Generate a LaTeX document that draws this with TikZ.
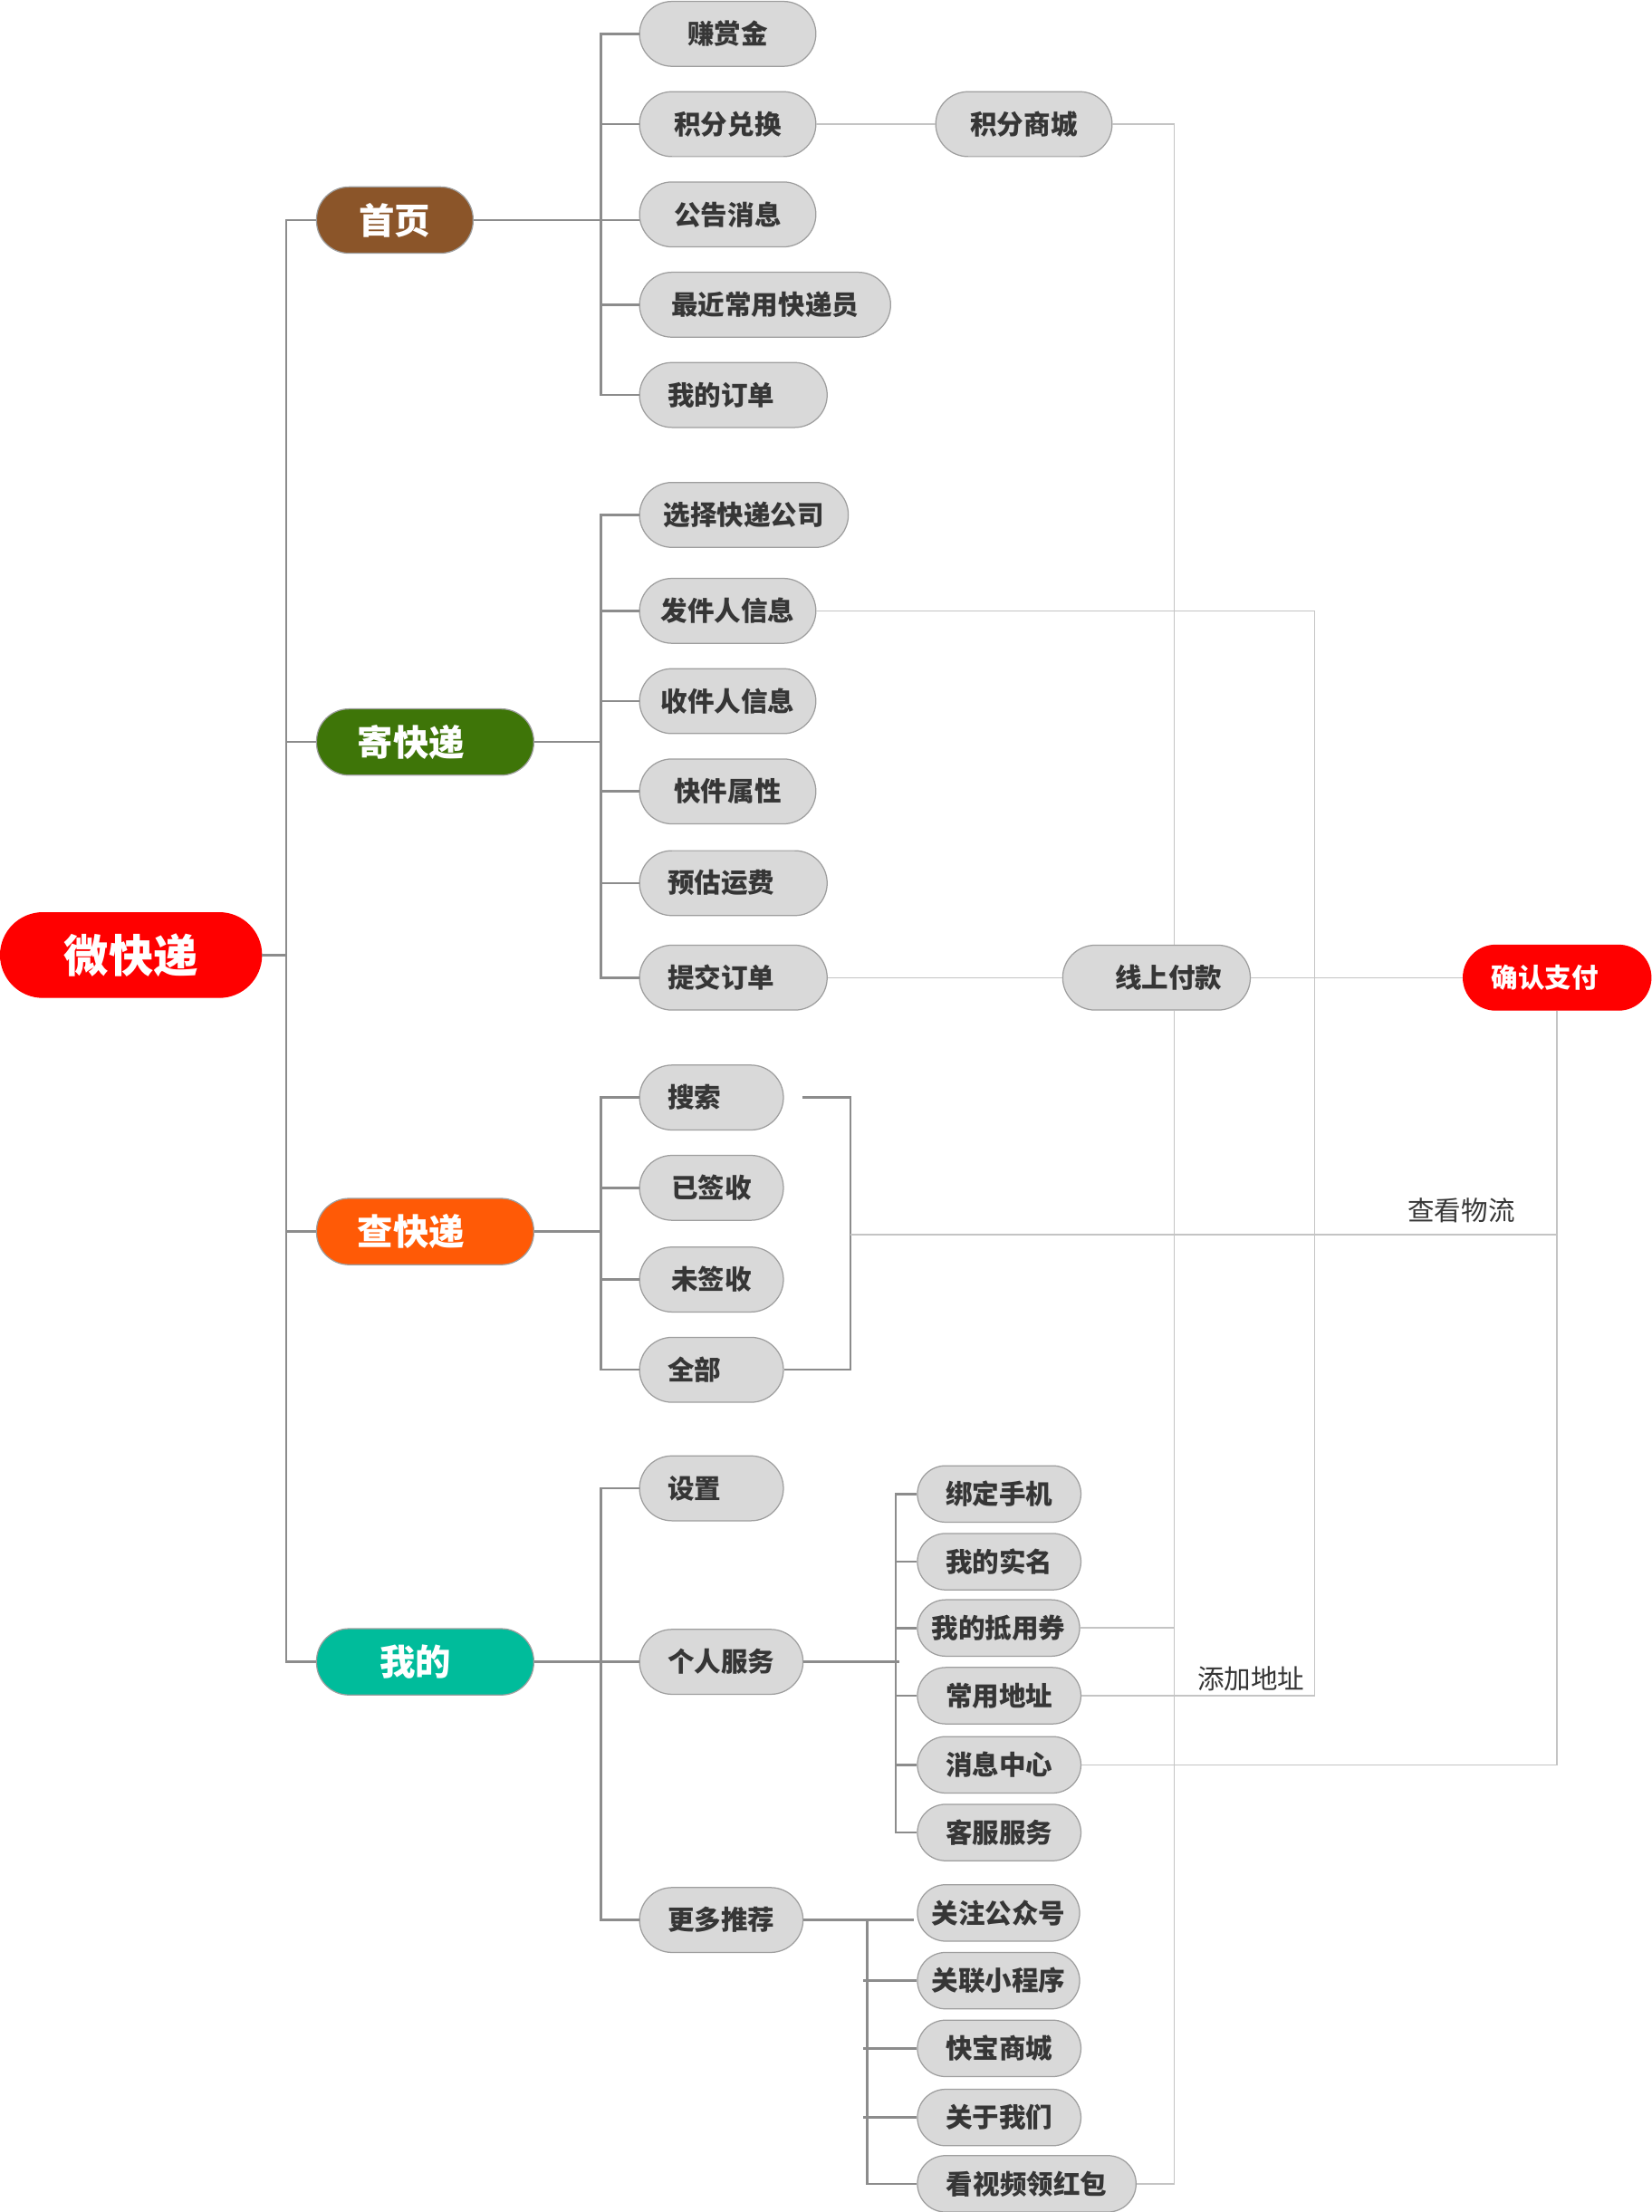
\documentclass[tikz,border=0pt]{standalone}
\usepackage{fontspec}
\setmainfont{Noto Sans CJK SC}

\definecolor{leafgray}{HTML}{D9D9D9}
\definecolor{edgegray}{HTML}{9E9E9E}
\definecolor{textgray}{HTML}{363636}
\definecolor{treegray}{HTML}{8C8C8C}
\definecolor{linkgray}{HTML}{C4C4C4}
\definecolor{shouye}{HTML}{8B5529}
\definecolor{jikuaidi}{HTML}{3E7508}
\definecolor{chakuaidi}{HTML}{FF5A06}
\definecolor{wode}{HTML}{00BC9B}

\tikzset{
  box/.style={rounded corners=11.5mm, minimum height=23mm, inner xsep=10mm, inner ysep=0pt, anchor=west, draw=edgegray, line width=0.4mm},
  leaf/.style={box, fill=leafgray, text=textgray, minimum width=#1, font=\bfseries\fontsize{27}{30}\selectfont},
  small/.style={minimum height=20mm, rounded corners=10mm},
  head/.style={box, fill=#1, text=white, minimum height=23.5mm, font=\bfseries\fontsize{36}{40}\selectfont},
  lefttext/.style={text width=#1, align=left},
  tree/.style={draw=treegray, line width=0.8mm},
  link/.style={draw=linkgray, line width=0.5mm},
  note/.style={text=textgray, font=\fontsize{27}{30}\selectfont}
}

\begin{document}
\begin{tikzpicture}[x=0.5mm,y=-0.5mm]
\useasboundingbox (0,0) rectangle (1171,1568);
% root and first level
\node[box, fill=red, draw=red, text=white, minimum width=92.5mm, minimum height=30mm, rounded corners=15mm, font=\bfseries\fontsize{45}{50}\selectfont] (root) at (0,677) {微快递};
\node[head=shouye, minimum width=55.5mm] (sy) at (224,156) {首页};
\node[head=jikuaidi, minimum width=77mm, inner xsep=14.5mm, lefttext=48mm] (jkd) at (224,526) {寄快递};
\node[head=chakuaidi, minimum width=77mm, inner xsep=14.5mm, lefttext=48mm] (ckd) at (224,873) {查快递};
\node[head=wode, minimum width=77mm, inner xsep=22.5mm, lefttext=32mm] (wd) at (224,1178) {我的};
% 首页
\node[leaf=62.5mm] (zsj) at (453,24) {赚赏金};
\node[leaf=62.5mm] (jfdh) at (453,88) {积分兑换};
\node[leaf=62.5mm] (ggxx) at (453,152) {公告消息};
\node[leaf=89mm] (zjky) at (453,216) {最近常用快递员};
\node[leaf=66.5mm, lefttext=46.5mm] (wddd) at (453,280) {我的订单};
\node[leaf=62.5mm] (jfsc) at (663,88) {积分商城};
% 寄快递
\node[leaf=74mm, inner xsep=8.5mm] (xzgs) at (453,365) {选择快递公司};
\node[leaf=62.5mm, inner xsep=7.5mm] (fjr) at (453,433) {发件人信息};
\node[leaf=62.5mm, inner xsep=7.5mm] (sjr) at (453,497) {收件人信息};
\node[leaf=62.5mm] (kjsx) at (453,561) {快件属性};
\node[leaf=66.5mm, lefttext=46.5mm] (ygyf) at (453,626) {预估运费};
\node[leaf=66.5mm, lefttext=46.5mm] (tjdd) at (453,693) {提交订单};
\node[leaf=66.5mm, text width=46.5mm, align=right] (xsfk) at (753,693) {线上付款};
\node[leaf=66.5mm, lefttext=46.5mm, fill=red, draw=red, text=white] (qrzf) at (1037,693) {确认支付};
% 查快递
\node[leaf=51mm, lefttext=31mm] (ss) at (453,778) {搜索};
\node[leaf=51mm] (yqs) at (453,842) {已签收};
\node[leaf=51mm] (wqs) at (453,907) {未签收};
\node[leaf=51mm, lefttext=31mm] (qb) at (453,971) {全部};
% 我的
\node[leaf=51mm, lefttext=31mm] (sz) at (453,1055) {设置};
\node[leaf=57mm] (grfw) at (453,1178) {个人服务};
\node[leaf=57mm] (gdtj) at (453,1361) {更多推荐};
\node[leaf=57.5mm, small] (bdsj) at (650,1059) {绑定手机};
\node[leaf=57.5mm, small] (wdsm) at (650,1107) {我的实名};
\node[leaf=57.5mm, small, inner xsep=5mm] (wddyq) at (650,1154) {我的抵用券};
\node[leaf=57.5mm, small] (cydz) at (650,1202) {常用地址};
\node[leaf=57.5mm, small] (xxzx) at (650,1251) {消息中心};
\node[leaf=57.5mm, small] (kffw) at (650,1299) {客服服务};
\node[leaf=57.5mm, small, inner xsep=5mm] (gzgzh) at (650,1356) {关注公众号};
\node[leaf=57.5mm, small, inner xsep=5mm] (glxcx) at (650,1404) {关联小程序};
\node[leaf=57.5mm, small] (kbsc) at (650,1452) {快宝商城};
\node[leaf=57.5mm, small] (gywm) at (650,1501) {关于我们};
\node[leaf=77.5mm, small] (kspl) at (650,1548) {看视频领红包};
% labels
\node[note] (ckwl) at (1036,858) {查看物流};
\node[note] (tjdz) at (887,1190) {添加地址};
\coordinate (wl) at (603,875);
\coordinate (dzr) at (932,1202);
\coordinate (rail) at ([xshift=6.25mm]xsfk.south);

% trunk
\draw[tree] (root.east) -- ++(18,0);
\draw[tree] (sy.west) -- ++(-21,0) |- (wd.west);
\draw[tree] (jkd.west) -- ++(-21,0);
\draw[tree] (ckd.west) -- ++(-21,0);
% 首页 branches
\draw[tree] (sy.east) -- (sy.east -| ggxx.west);
\draw[tree] (zsj.west) -- ++(-27,0) |- (wddd.west);
\draw[tree] (jfdh.west) -- ++(-27,0);
\draw[tree] (zjky.west) -- ++(-27,0);
% 寄快递 branches
\draw[tree] (jkd.east) -- ++(48,0);
\draw[tree] (xzgs.west) -- ++(-27,0) |- (tjdd.west);
\draw[tree] (fjr.west) -- ++(-27,0);
\draw[tree] (sjr.west) -- ++(-27,0);
\draw[tree] (kjsx.west) -- ++(-27,0);
\draw[tree] (ygyf.west) -- ++(-27,0);
% 查快递 branches
\draw[tree] (ckd.east) -- ++(48,0);
\draw[tree] (ss.west) -- ++(-27,0) |- (qb.west);
\draw[tree] (yqs.west) -- ++(-27,0);
\draw[tree] (wqs.west) -- ++(-27,0);
\draw[tree] ([xshift=6.5mm]ss.east) -| (wl) |- (qb.east);
% 我的 branches
\draw[tree] (wd.east) -- (grfw.west);
\draw[tree] (sz.west) -- ++(-27,0) |- (gdtj.west);
\draw[tree] (grfw.east) -- ++(68,0);
\draw[tree] (bdsj.west) -- ++(-15,0) |- (kffw.west);
\draw[tree] (wdsm.west) -- ++(-15,0);
\draw[tree] (wddyq.west) -- ++(-15,0);
\draw[tree] (cydz.west) -- ++(-15,0);
\draw[tree] (xxzx.west) -- ++(-15,0);
\draw[tree] (gdtj.east) -- ++(78,0);
\draw[tree] (gdtj.east) ++(45,0) |- (kspl.west);
\draw[tree] (glxcx.west) -- ++(-38,0);
\draw[tree] (kbsc.west) -- ++(-38,0);
\draw[tree] (gywm.west) -- ++(-38,0);

% cross links
\draw[link] (jfdh) -- (jfsc);
\draw[link] (jfsc.east) -| ([xshift=6.25mm]xsfk.north);
\draw[link] (kspl.east) -| (rail);
\draw[link] (wddyq.east) -- (rail |- wddyq.east);
\draw[link] (tjdd) -- (xsfk);
\draw[link] (xsfk) -- (qrzf);
\draw[link] (fjr.east) -| (dzr) -- (cydz.east);
\draw[link] (qrzf.south) |- (xxzx.east);
\draw[link] (wl) -- (wl -| qrzf.south);
\end{tikzpicture}
\end{document}
